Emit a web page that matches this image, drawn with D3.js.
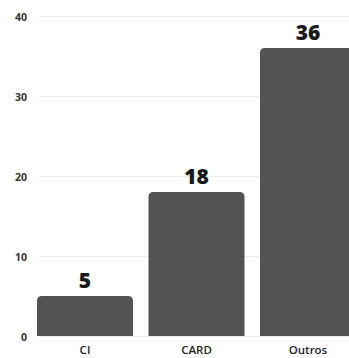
<!DOCTYPE html>
<html><head><meta charset="utf-8">
<script src="https://cdn.jsdelivr.net/npm/d3@7"></script>
<style>html,body{margin:0;padding:0;background:#fff;}svg{display:block;}</style>
</head><body>
<script>
const categories = ["CI", "CARD", "Outros"];
const values = [5, 18, 36];
const yTicks = [0, 10, 20, 30, 40];

const W = 349, H = 358;
const svg = d3.select("body").append("svg").attr("width", W).attr("height", H);

const y = d3.scaleLinear().domain([0, 40]).range([336, 16]);
const x = d3.scaleBand().domain(categories).range([37, 356]).paddingInner(0.139).paddingOuter(0);

// gridlines
svg.append("g").selectAll("line").data(yTicks).join("line")
  .attr("x1", 39).attr("x2", W)
  .attr("y1", d => y(d) + 0.5).attr("y2", d => y(d) + 0.5)
  .attr("stroke", "#ececec").attr("stroke-width", 1);

// y tick labels
svg.append("g").selectAll("text").data(yTicks).join("text")
  .attr("x", 27).attr("y", d => y(d) + 2)
  .attr("text-anchor", "end").attr("dominant-baseline", "middle")
  .attr("font-family", "Open Sans").attr("font-weight", 700).attr("font-size", 10.5)
  .attr("fill", "#333").text(d => d);

// bars with rounded top corners
const r = 5;
svg.append("g").selectAll("path").data(values).join("path")
  .attr("d", (d, i) => {
    const x0 = x(categories[i]), w = x.bandwidth(), yt = y(d), yb = y(0);
    return `M${x0},${yb}V${yt + r}Q${x0},${yt} ${x0 + r},${yt}H${x0 + w - r}Q${x0 + w},${yt} ${x0 + w},${yt + r}V${yb}Z`;
  })
  .attr("fill", "#535353");

// value labels
svg.append("g").selectAll("text").data(values).join("text")
  .attr("x", (d, i) => x(categories[i]) + x.bandwidth() / 2)
  .attr("y", d => y(d) - 8)
  .attr("text-anchor", "middle")
  .attr("font-family", "Open Sans").attr("font-weight", 800).attr("font-size", 21)
  .attr("fill", "#1a1a1a").text(d => d);

// category labels
svg.append("g").selectAll("text").data(categories).join("text")
  .attr("x", d => x(d) + x.bandwidth() / 2)
  .attr("y", 354)
  .attr("text-anchor", "middle")
  .attr("font-family", "Open Sans").attr("font-weight", 600).attr("font-size", 11.5)
  .attr("fill", "#222").text(d => d);
</script>
</body></html>
